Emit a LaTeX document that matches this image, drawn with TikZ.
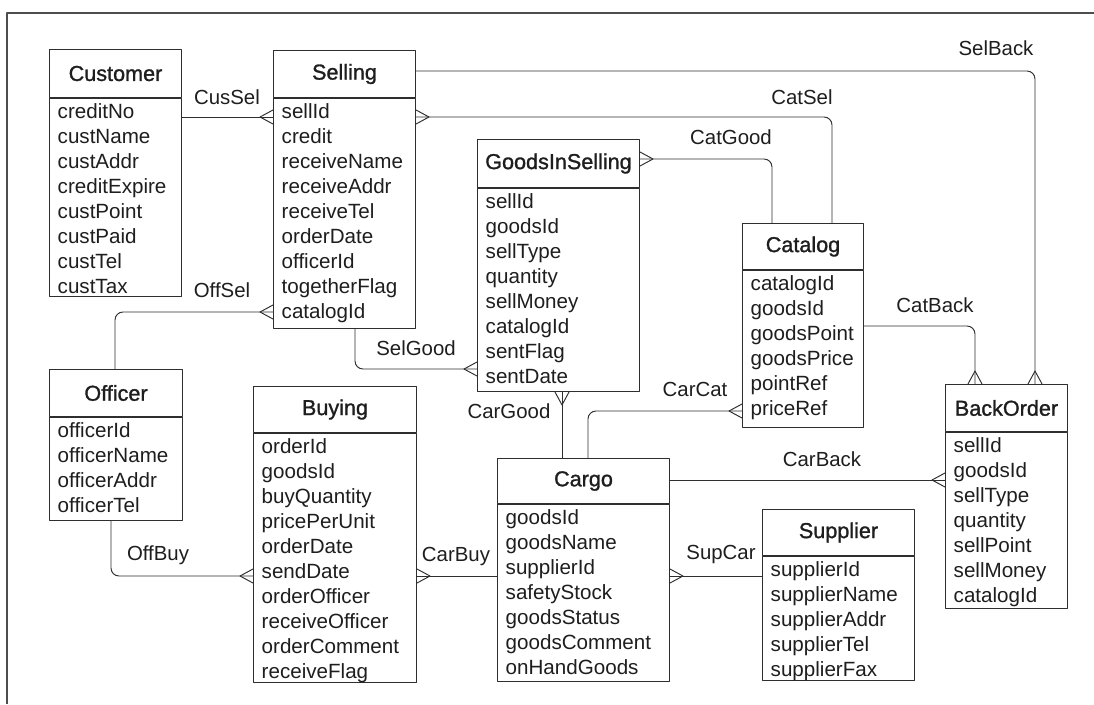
\documentclass[tikz,border=0pt]{standalone}
\usepackage{fontspec}
\setmainfont{Liberation Sans}
\newfontfamily\entitytitlefont[FakeBold=1.2]{Liberation Sans}
\usetikzlibrary{arrows.meta}

% crow's foot ("many" end of a relationship): spread at the tip, converging behind it
\pgfdeclarearrow{
  name = Crow,
  defaults = {length = 13pt, width = 14pt},
  parameters = {\the\pgfarrowlength,\the\pgfarrowwidth},
  setup code = {
    \pgfarrowssettipend{0pt}
    \pgfarrowssetlineend{0pt}
    \pgfarrowssetvisualbackend{-\pgfarrowlength}
    \pgfarrowssetbackend{-\pgfarrowlength}
    \pgfarrowsupperhullpoint{0pt}{.5\pgfarrowwidth}
    \pgfarrowsupperhullpoint{-\pgfarrowlength}{0pt}
    \pgfarrowssavethe\pgfarrowlength
    \pgfarrowssavethe\pgfarrowwidth
  },
  drawing code = {
    \pgfsetdash{}{0pt}
    \pgfpathmoveto{\pgfqpoint{0pt}{.5\pgfarrowwidth}}
    \pgfpathlineto{\pgfqpoint{-\pgfarrowlength}{0pt}}
    \pgfpathlineto{\pgfqpoint{0pt}{-.5\pgfarrowwidth}}
    \pgfusepathqstroke
  }
}

\definecolor{ink}{HTML}{2E2E2E}
\definecolor{txt}{HTML}{1E1E1E}

\tikzset{
  hdrbox/.style={draw=ink, line width=1pt, inner sep=0pt, text=txt,
    font=\entitytitlefont\fontsize{21.6}{24}\selectfont},
  bodybox/.style={draw=ink, line width=1pt, inner sep=0pt},
  field/.style={inner sep=0pt, text=txt, font=\fontsize{20.6}{24}\selectfont},
  rel/.style={inner sep=0pt, text=txt, font=\fontsize{20.4}{24}\selectfont},
  conn/.style={draw=ink, line width=0.95pt, rounded corners=8pt},
  frameline/.style={draw=ink!85, line width=1.1pt},
}

% #1 name, #2 x, #3 y, #4 width, #5 header height, #6 body height, #7 title, #8 fields
\newcommand{\erentity}[8]{%
  \node[hdrbox, minimum width=#4, minimum height=#5, anchor=north west] (#1) at (#2,#3) {#7};
  \node[bodybox, minimum width=#4, minimum height=#6, anchor=north west] (#1B) at (#1.south west) {};
  \foreach \f [count=\i] in {#8} {
    \node[field, anchor=base west] (#1-\i) at ([xshift=8.5pt, yshift={-(20+(\i-1)*25)}]#1B.north west) {\f};
  }%
}

\begin{document}
\begin{tikzpicture}[x=1pt, y=-1pt, line join=round]
\useasboundingbox (0,0) rectangle (1094,704);
\fill[white] (0,0) rectangle (1094,704);
\draw[frameline] (7,704) -- (7,13) -- (1094,13);

% entities
\erentity{cust}{49}{49}{132}{48}{198}{Customer}{creditNo,custName,custAddr,creditExpire,custPoint,custPaid,custTel,custTax}
\erentity{sel}{273}{50}{142}{47}{230}{Selling}{sellId,credit,receiveName,receiveAddr,receiveTel,orderDate,officerId,togetherFlag,catalogId}
\erentity{gis}{477}{139}{162}{48}{203}{GoodsInSelling}{sellId,goodsId,sellType,quantity,sellMoney,catalogId,sentFlag,sentDate}
\erentity{cat}{742}{223}{121}{46}{157}{Catalog}{catalogId,goodsId,goodsPoint,goodsPrice,pointRef,priceRef}
\erentity{off}{49}{369}{133}{47}{103}{Officer}{officerId,officerName,officerAddr,officerTel}
\erentity{buy}{253}{386}{163}{46}{249}{Buying}{orderId,goodsId,buyQuantity,pricePerUnit,orderDate,sendDate,orderOfficer,receiveOfficer,orderComment,receiveFlag}
\erentity{car}{497}{458}{172}{45}{177}{Cargo}{goodsId,goodsName,supplierId,safetyStock,goodsStatus,goodsComment,onHandGoods}
\erentity{sup}{762}{509}{152}{46}{124}{Supplier}{supplierId,supplierName,supplierAddr,supplierTel,supplierFax}
\erentity{bo}{945}{384}{122}{47}{176}{BackOrder}{sellId,goodsId,sellType,quantity,sellPoint,sellMoney,catalogId}

% relationships
\draw[conn, -Crow] (custB.east |- 0,117) -- (selB.west |- 0,117);
\draw[conn, -Crow] (sel.east |- 0,71) -| (bo.north -| 1035,0);
\draw[conn, Crow-] (selB.east |- 0,117) -| (cat.north -| 832,0);
\draw[conn, Crow-] (gis.east |- 0,159) -| (cat.north -| 772,0);
\draw[conn, Crow-] (selB.west |- 0,312) -| (off.north -| 115,0);
\draw[conn, -Crow] (selB.south -| 355,0) |- (gisB.west |- 0,369);
\draw[conn, -Crow] (car.north -| 562,0) -- (gisB.south -| 562,0);
\draw[conn, -Crow] (car.north -| 588,0) |- (catB.west |- 0,411);
\draw[conn, -Crow] (catB.east |- 0,326) -| (bo.north -| 975,0);
\draw[conn, -Crow] (car.east |- 0,480) -- (boB.west |- 0,480);
\draw[conn, -Crow] (offB.south -| 111,0) |- (buyB.west |- 0,576);
\draw[conn, -Crow] (carB.west |- 0,576) -- (buyB.east |- 0,576);
\draw[conn, -Crow] (supB.west |- 0,576) -- (carB.east |- 0,576);

% relationship names
\node[rel] (lCusSel)  at (227,97)  {CusSel};
\node[rel] (lSelBack) at (996,48)  {SelBack};
\node[rel] (lCatSel)  at (802,97)  {CatSel};
\node[rel] (lCatGood) at (731,137) {CatGood};
\node[rel] (lOffSel)  at (222,290) {OffSel};
\node[rel] (lSelGood) at (416,348) {SelGood};
\node[rel] (lCarGood) at (509,411) {CarGood};
\node[rel] (lCarCat)  at (695,389) {CarCat};
\node[rel] (lCatBack) at (935,305) {CatBack};
\node[rel] (lCarBack) at (822,459) {CarBack};
\node[rel] (lOffBuy)  at (158,555) {OffBuy};
\node[rel] (lCarBuy)  at (456,556) {CarBuy};
\node[rel] (lSupCar)  at (721,554) {SupCar};
\end{tikzpicture}
\end{document}
